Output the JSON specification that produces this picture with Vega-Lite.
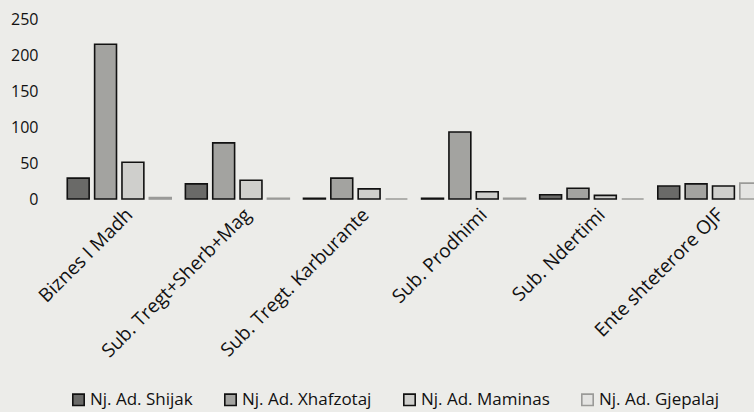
{
  "$schema": "https://vega.github.io/schema/vega-lite/v6.json",
  "autosize": "none",
  "width": 695,
  "height": 180,
  "padding": {"left": 59, "top": 19, "right": 0, "bottom": 213},
  "background": "#ecece9",
  "config": {
    "view": {"stroke": null},
    "font": "Open Sans",
    "axis": {"labelColor": "#111111", "labelFont": "Open Sans"},
    "legend": {"labelColor": "#111111", "labelFont": "Open Sans"}
  },
  "data": {
    "values": [
      {"category": "Biznes I Madh", "series": "Nj. Ad. Shijak", "value": 29},
      {"category": "Biznes I Madh", "series": "Nj. Ad. Xhafzotaj", "value": 215},
      {"category": "Biznes I Madh", "series": "Nj. Ad. Maminas", "value": 51},
      {"category": "Biznes I Madh", "series": "Nj. Ad. Gjepalaj", "value": 2},
      {"category": "Sub. Tregt+Sherb+Mag", "series": "Nj. Ad. Shijak", "value": 21},
      {"category": "Sub. Tregt+Sherb+Mag", "series": "Nj. Ad. Xhafzotaj", "value": 78},
      {"category": "Sub. Tregt+Sherb+Mag", "series": "Nj. Ad. Maminas", "value": 26},
      {"category": "Sub. Tregt+Sherb+Mag", "series": "Nj. Ad. Gjepalaj", "value": 1},
      {"category": "Sub. Tregt. Karburante", "series": "Nj. Ad. Shijak", "value": 1},
      {"category": "Sub. Tregt. Karburante", "series": "Nj. Ad. Xhafzotaj", "value": 29},
      {"category": "Sub. Tregt. Karburante", "series": "Nj. Ad. Maminas", "value": 14},
      {"category": "Sub. Tregt. Karburante", "series": "Nj. Ad. Gjepalaj", "value": 0},
      {"category": "Sub. Prodhimi", "series": "Nj. Ad. Shijak", "value": 1},
      {"category": "Sub. Prodhimi", "series": "Nj. Ad. Xhafzotaj", "value": 93},
      {"category": "Sub. Prodhimi", "series": "Nj. Ad. Maminas", "value": 10},
      {"category": "Sub. Prodhimi", "series": "Nj. Ad. Gjepalaj", "value": 1},
      {"category": "Sub. Ndertimi", "series": "Nj. Ad. Shijak", "value": 6},
      {"category": "Sub. Ndertimi", "series": "Nj. Ad. Xhafzotaj", "value": 15},
      {"category": "Sub. Ndertimi", "series": "Nj. Ad. Maminas", "value": 5},
      {"category": "Sub. Ndertimi", "series": "Nj. Ad. Gjepalaj", "value": 0},
      {"category": "Ente shteterore OJF", "series": "Nj. Ad. Shijak", "value": 18},
      {"category": "Ente shteterore OJF", "series": "Nj. Ad. Xhafzotaj", "value": 21},
      {"category": "Ente shteterore OJF", "series": "Nj. Ad. Maminas", "value": 18},
      {"category": "Ente shteterore OJF", "series": "Nj. Ad. Gjepalaj", "value": 22}
    ]
  },
  "mark": {"type": "bar", "stroke": "#111111", "strokeWidth": 1.6},
  "encoding": {
    "x": {
      "field": "category",
      "type": "nominal",
      "sort": null,
      "scale": {"range": [0, 711], "paddingInner": 0.12, "paddingOuter": 0.07},
      "axis": {
        "title": null,
        "labelAngle": -45,
        "labelFontSize": 19,
        "labelPadding": 6,
        "labelOffset": 4,
        "ticks": false,
        "domain": false,
        "labelLimit": 300
      }
    },
    "xOffset": {
      "field": "series",
      "type": "nominal",
      "sort": ["Nj. Ad. Shijak", "Nj. Ad. Xhafzotaj", "Nj. Ad. Maminas", "Nj. Ad. Gjepalaj"],
      "scale": {"paddingInner": 0.2}
    },
    "y": {
      "field": "value",
      "type": "quantitative",
      "scale": {"domain": [0, 250]},
      "axis": {
        "title": null,
        "values": [0, 50, 100, 150, 200, 250],
        "grid": false,
        "ticks": false,
        "domain": false,
        "labelFontSize": 16,
        "labelPadding": 21
      }
    },
    "fill": {
      "field": "series",
      "type": "nominal",
      "sort": ["Nj. Ad. Shijak", "Nj. Ad. Xhafzotaj", "Nj. Ad. Maminas", "Nj. Ad. Gjepalaj"],
      "scale": {
        "domain": ["Nj. Ad. Shijak", "Nj. Ad. Xhafzotaj", "Nj. Ad. Maminas", "Nj. Ad. Gjepalaj"],
        "range": ["#6a6a68", "#a3a3a0", "#cfcfcc", "#e4e4e2"]
      },
      "legend": {
        "title": null,
        "orient": "none",
        "direction": "horizontal",
        "legendX": 11,
        "legendY": 372,
        "symbolType": "square",
        "symbolSize": 130,
        "symbolStrokeColor": "#111111",
        "symbolStrokeWidth": 1.6,
        "labelFontSize": 17,
        "labelOffset": 3,
        "columnPadding": 28,
        "labelLimit": 250
      }
    },
    "stroke": {
      "field": "series",
      "type": "nominal",
      "scale": {
        "domain": ["Nj. Ad. Shijak", "Nj. Ad. Xhafzotaj", "Nj. Ad. Maminas", "Nj. Ad. Gjepalaj"],
        "range": ["#111111", "#111111", "#111111", "#9a9a98"]
      },
      "legend": null
    }
  }
}
